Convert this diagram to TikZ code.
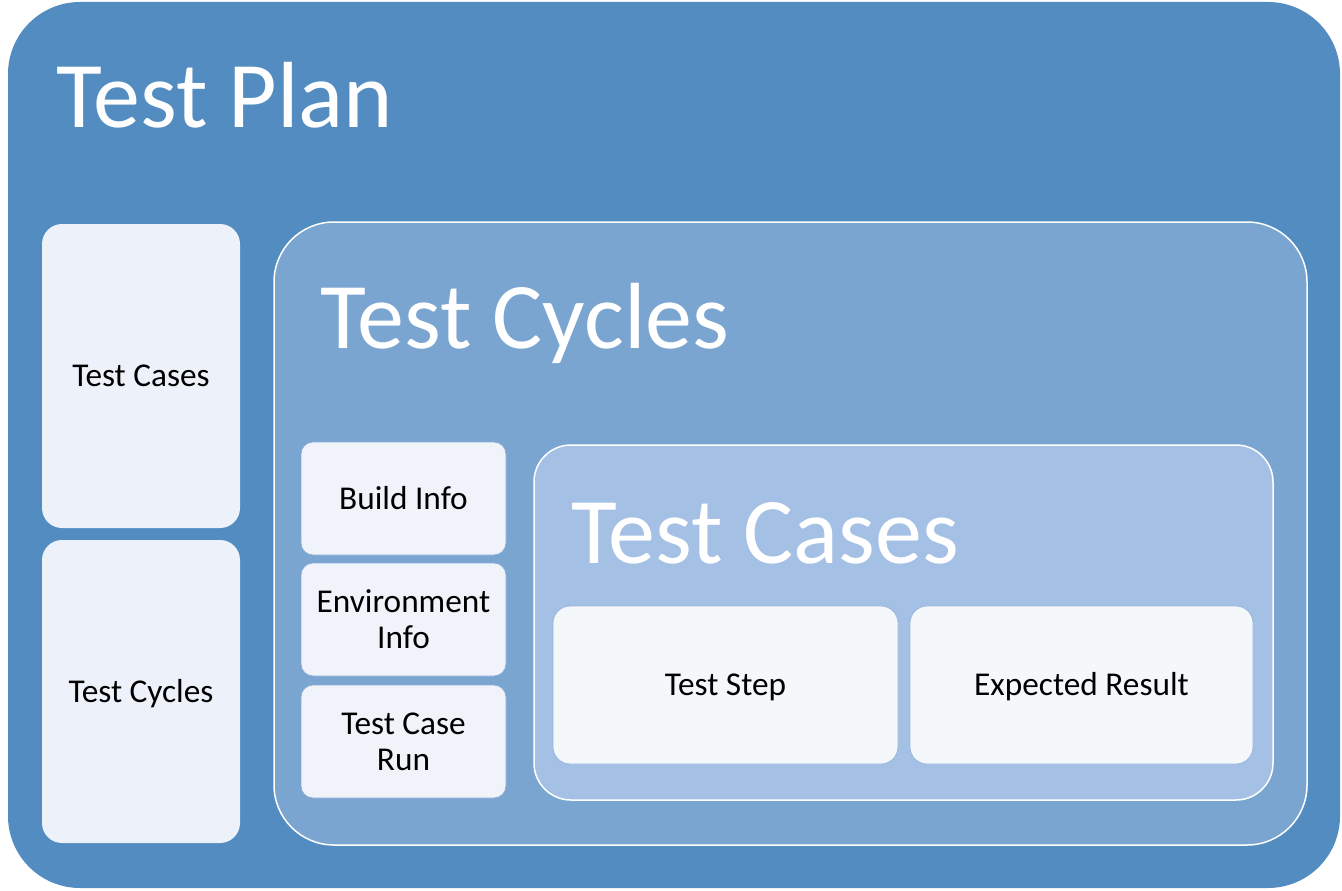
\documentclass[tikz,border=0pt]{standalone}
\usepackage{fontspec}
\setmainfont{Carlito}
\definecolor{outerc}{RGB}{83,140,192}
\definecolor{cycc}{RGB}{122,165,209}
\definecolor{casec}{RGB}{164,192,228}
\definecolor{leftc}{RGB}{237,242,250}
\definecolor{infoc}{RGB}{240,244,250}
\definecolor{infob}{RGB}{140,172,214}
\definecolor{stepc}{RGB}{244,248,251}
\definecolor{stepb}{RGB}{150,182,222}
\begin{document}
\begin{tikzpicture}[x=1pt,y=-1pt,
  title/.style={anchor=base west, inner sep=0pt, text=white, font=\fontsize{94}{104}\selectfont},
  boxtext/.style={inner sep=0pt, text height=21.4pt, text depth=0pt, align=center, text=black,
    font=\fontsize{33.3}{36}\selectfont},
  twoline/.style={text height=57.4pt, text depth=0pt},
  leftbox/.style={boxtext, fill=leftc, rounded corners=20pt, minimum width=198pt, minimum height=304pt},
  infobox/.style={boxtext, fill=infoc, draw=infob, line width=0.8pt, rounded corners=12pt, minimum width=205pt, minimum height=113pt},
  stepbox/.style={boxtext, fill=stepc, draw=stepb, line width=0.8pt, rounded corners=17pt, minimum height=158pt}
]
\useasboundingbox (0,0) rectangle (1342,891);
% outer plan
\fill[outerc, rounded corners=72pt] (8,2) rectangle (1340,888);
\node[title] (tplan) at (56,128) {Test Plan};
% left boxes
\node[leftbox] (lcases) at (141,376) {Test Cases};
\node[leftbox, minimum height=303pt] (lcycles) at (141,691.5) {Test Cycles};
% test cycles container
\filldraw[fill=cycc, draw=white, line width=1.5pt, rounded corners=60pt] (274,222) rectangle (1307,845);
\node[title] (tcycles) at (320,348) {Test Cycles};
% info boxes
\node[infobox] (build) at (403.5,498.5) {Build Info};
\node[infobox, twoline] (env) at (403.5,619.5) {Environment\\Info};
\node[infobox, twoline] (run) at (403.5,741.5) {Test Case\\Run};
% test cases container
\filldraw[fill=casec, draw=white, line width=1.5pt, rounded corners=37pt] (534,445) rectangle (1273,800);
\node[title] (tcases) at (571,563) {Test Cases};
% step boxes
\node[stepbox, minimum width=345pt] (step) at (725.5,685) {Test Step};
\node[stepbox, minimum width=343pt] (result) at (1081.5,685) {Expected Result};
\end{tikzpicture}
\end{document}
